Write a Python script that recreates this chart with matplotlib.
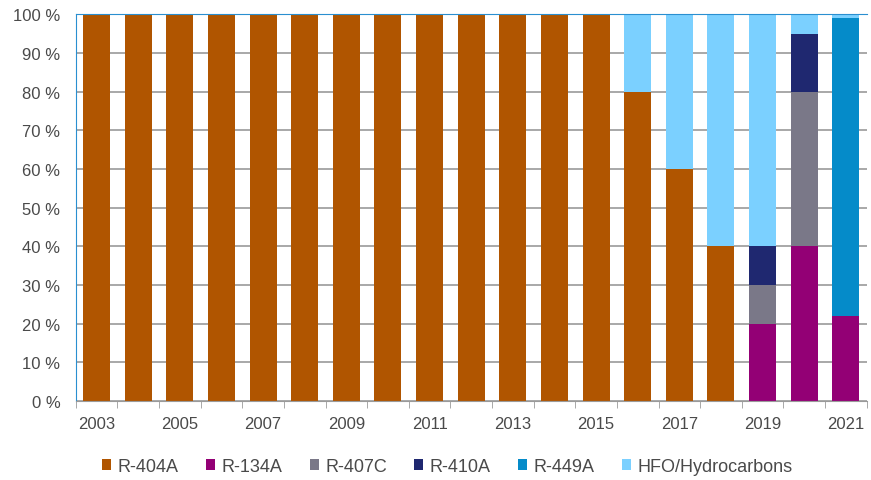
import numpy as np
import matplotlib.pyplot as plt

plt.rcParams['font.family'] = ['Liberation Sans', 'DejaVu Sans']

years = list(range(2003, 2022))
r404a = [100] * 13 + [80, 60, 40, 0, 0, 0]
r134a = [0] * 16 + [20, 40, 22]
r407c = [0] * 16 + [10, 40, 0]
r410a = [0] * 16 + [10, 15, 0]
r449a = [0] * 18 + [77]
hfo = [0] * 13 + [20, 40, 60, 60, 5, 1]

series = [
    ('R-404A', r404a, '#B05500'),
    ('R-134A', r134a, '#930075'),
    ('R-407C', r407c, '#7A7888'),
    ('R-410A', r410a, '#1F2870'),
    ('R-449A', r449a, '#058BC9'),
    ('HFO/Hydrocarbons', hfo, '#7BD0FF'),
]

fig = plt.figure(figsize=(8.71, 4.81), dpi=100)
ax = fig.add_axes([0.087, 0.164, 0.908, 0.804])

x = np.arange(len(years))
bottom = np.zeros(len(years))
for name, vals, col in series:
    vals = np.array(vals, dtype=float)
    ax.bar(x, vals, bottom=bottom, width=0.65, color=col, label=name, zorder=2)
    bottom += vals

ax.set_xlim(-0.5, len(years) - 0.5)
ax.set_ylim(0, 100)
ax.set_yticks(range(0, 101, 10))
ax.set_yticklabels([f'{v} %' for v in range(0, 101, 10)], color='#4a4a4a', fontsize=12)
ax.yaxis.grid(True, color='#9a9a9a', linewidth=1.2, zorder=0)
ax.tick_params(axis='y', length=0, pad=11)

# ticks sit between the bars, labels every other year
ax.set_xticks(np.arange(-0.5, len(years), 1), minor=True)
ax.set_xticks(x[::2])
ax.set_xticklabels([str(y) for y in years[::2]], color='#4a4a4a', fontsize=12)
ax.tick_params(axis='x', which='major', length=0, pad=11)
ax.tick_params(axis='x', which='minor', length=5, color='#9a9a9a')

ax.spines['left'].set_color('#2A8FD0')
ax.spines['top'].set_color('#2A8FD0')
ax.spines['right'].set_visible(False)
ax.spines['bottom'].set_color('#9a9a9a')

ax.legend(loc='upper center', bbox_to_anchor=(0.47, -0.105), ncol=6, frameon=False,
          fontsize=13, handlelength=0.5, handleheight=0.55, handletextpad=0.35,
          columnspacing=1.52, labelcolor='#4a4a4a')

fig.savefig('out.png', dpi=100)
